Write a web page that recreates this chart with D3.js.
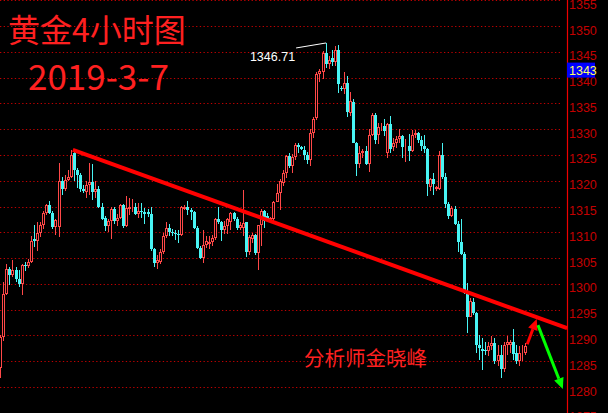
<!DOCTYPE html>
<html><head><meta charset="utf-8">
<script src="https://cdn.jsdelivr.net/npm/d3@7"></script>
<style>html,body{margin:0;padding:0;background:#000;overflow:hidden}</style>
</head><body>
<svg id="c" width="608" height="413"></svg>
<script>
// ---- data ----
const opens = [1283.7,1289.6,1298.1,1302.9,1301.7,1302.6,1301.0,1299.9,1303.6,1303.4,1304.3,1308.7,1308.4,1309.8,1311.5,1313.7,1315.2,1313.8,1311.1,1311.1,
1319.9,1318.3,1320.1,1320.8,1325.3,1322.1,1321.2,1318.4,1317.9,1319.2,1319.7,1317.8,1318.3,1315.0,1312.8,1311.2,1312.2,1314.6,1312.2,1312.8,
1315.2,1311.3,1314.6,1314.7,1315.0,1313.5,1314.1,1314.0,1314.0,1313.6,1306.7,1304.0,1304.3,1306.1,1309.3,1310.9,1310.1,1309.9,1309.6,1309.4,
1314.6,1315.0,1314.3,1313.9,1310.9,1306.9,1305.1,1307.5,1307.7,1308.1,1308.8,1312.5,1311.9,1310.4,1311.3,1312.0,1313.7,1312.6,1310.9,1310.8,
1311.9,1306.2,1308.7,1309.4,1306.0,1311.4,1314.2,1313.1,1312.3,1312.5,1315.9,1317.6,1319.6,1321.5,1324.8,1322.8,1324.6,1327.0,1326.5,1325.9,
1324.9,1324.1,1329.2,1332.1,1340.6,1341.0,1344.8,1342.6,1343.8,1343.0,1345.4,1338.0,1337.8,1338.9,1333.2,1335.3,1327.4,1323.3,1325.3,1325.8,
1323.3,1328.9,1332.8,1328.9,1330.2,1330.6,1325.4,1331.0,1326.5,1327.3,1328.0,1328.6,1326.5,1326.8,1325.7,1328.9,1329.2,1327.8,1326.8,1326.2,
1318.7,1320.3,1318.4,1318.3,1324.9,1320.8,1315.4,1313.2,1314.6,1311.6,1308.1,1305.8,1298.3,1293.6,1296.5,1294.3,1288.2,1287.3,1287.2,1286.9,
1287.9,1288.5,1285.0,1286.3,1283.4,1288.2,1288.2,1288.7,1286.6,1285.0,1286.6,1286.5];
const highs = [1290.0,1300.3,1303.8,1303.3,1304.7,1303.2,1302.7,1303.8,1304.3,1304.8,1309.3,1311.5,1311.9,1311.9,1314.1,1315.4,1316.0,1314.1,1312.6,1323.4,
1320.8,1321.2,1322.0,1326.0,1325.6,1322.4,1321.5,1319.2,1319.9,1323.5,1323.3,1319.9,1318.9,1315.7,1313.1,1312.5,1315.0,1315.0,1313.5,1315.4,
1315.4,1317.0,1316.6,1316.4,1315.7,1315.7,1315.7,1314.7,1314.6,1315.0,1306.9,1305.6,1306.7,1309.9,1311.9,1311.6,1310.7,1310.5,1310.5,1315.1,
1315.3,1316.0,1314.8,1314.1,1311.2,1307.4,1310.4,1309.3,1309.3,1309.4,1312.7,1314.9,1312.1,1312.1,1312.7,1314.0,1314.0,1312.9,1312.0,1318.2,
1312.0,1309.5,1309.8,1309.6,1311.5,1314.5,1314.4,1313.7,1313.0,1316.1,1319.3,1320.3,1322.0,1325.0,1325.4,1325.1,1327.4,1327.4,1326.8,1326.8,
1325.5,1330.0,1332.4,1341.0,1341.7,1345.1,1346.71,1344.2,1345.4,1346.2,1346.4,1338.4,1341.0,1340.3,1337.2,1335.8,1327.6,1326.7,1326.2,1326.8,
1330.0,1333.1,1333.1,1331.2,1331.2,1331.9,1331.1,1332.6,1328.3,1328.6,1330.0,1328.9,1328.0,1329.1,1329.9,1329.9,1329.4,1328.7,1328.9,1326.3,
1320.6,1321.5,1319.0,1325.7,1327.4,1321.5,1315.8,1315.1,1315.1,1312.2,1312.6,1306.2,1300.1,1297.2,1297.2,1294.6,1290.1,1289.5,1288.8,1288.8,
1289.8,1289.5,1288.2,1288.2,1288.8,1289.8,1289.2,1291.3,1288.2,1287.9,1288.2,1288.5];
const lows = [1281.7,1289.0,1297.8,1299.7,1301.3,1300.3,1299.4,1297.9,1302.4,1303.1,1304.0,1307.1,1306.3,1309.0,1310.6,1313.3,1313.5,1310.7,1309.5,1309.0,
1317.3,1318.0,1319.9,1320.5,1319.9,1318.6,1317.8,1317.6,1316.7,1317.3,1316.3,1316.7,1314.7,1312.4,1310.3,1310.1,1308.7,1311.7,1311.3,1312.5,
1310.9,1311.1,1313.3,1313.9,1313.3,1312.8,1312.8,1311.7,1312.9,1306.4,1303.2,1302.8,1303.9,1305.8,1308.8,1309.3,1309.3,1308.5,1308.0,1309.2,
1314.3,1313.3,1312.4,1310.6,1306.7,1304.8,1304.1,1306.9,1306.7,1307.3,1308.6,1311.6,1308.3,1309.6,1309.6,1310.4,1312.1,1310.4,1310.4,1309.2,
1305.2,1305.5,1307.9,1305.6,1302.6,1307.4,1310.8,1311.9,1311.9,1312.2,1315.8,1314.4,1319.0,1320.6,1322.5,1321.4,1324.1,1325.4,1326.0,1324.1,
1323.3,1322.8,1328.3,1331.8,1339.2,1339.7,1341.9,1341.7,1342.2,1342.2,1337.1,1337.4,1336.8,1332.3,1332.6,1327.3,1321.0,1322.5,1324.4,1323.0,
1321.7,1328.6,1327.2,1327.2,1329.6,1328.6,1324.5,1325.3,1325.7,1326.3,1327.4,1324.4,1323.6,1323.8,1325.5,1328.3,1327.4,1325.7,1325.4,1317.1,
1318.0,1317.2,1318.1,1318.2,1320.3,1314.8,1312.6,1312.9,1311.4,1306.2,1305.5,1298.1,1290.4,1293.5,1293.9,1286.6,1285.3,1283.2,1286.3,1286.0,
1287.2,1284.4,1284.0,1281.8,1283.0,1286.3,1286.6,1285.3,1284.5,1284.0,1285.0,1286.3];
const closes = [1289.6,1298.1,1302.9,1301.7,1302.6,1301.0,1299.9,1303.6,1303.4,1304.3,1308.3,1308.4,1309.8,1311.5,1313.7,1315.2,1313.8,1311.1,1312.4,1319.9,
1318.3,1320.1,1320.8,1325.0,1322.1,1321.2,1318.3,1318.1,1319.2,1319.7,1317.8,1318.3,1315.0,1312.6,1311.2,1312.2,1314.6,1312.2,1312.8,1315.2,
1311.3,1314.7,1315.0,1315.0,1313.5,1314.1,1313.9,1313.5,1313.6,1306.7,1304.0,1304.6,1306.1,1309.3,1310.9,1310.1,1309.9,1309.6,1309.4,1314.9,
1315.0,1314.3,1313.9,1310.9,1306.9,1305.1,1307.5,1308.3,1308.1,1308.8,1312.5,1311.9,1310.4,1311.3,1312.5,1313.7,1312.6,1310.9,1311.5,1311.8,
1306.2,1309.0,1309.4,1306.0,1311.4,1314.2,1312.2,1312.5,1312.7,1315.8,1317.6,1319.9,1321.5,1324.7,1322.8,1324.6,1327.0,1326.6,1326.2,1324.9,
1324.1,1329.2,1332.0,1340.6,1341.3,1344.7,1342.6,1343.5,1343.0,1345.4,1338.7,1337.8,1338.9,1333.3,1335.4,1327.4,1323.3,1325.3,1325.7,1323.3,
1328.9,1332.8,1327.8,1330.4,1330.5,1329.6,1331.0,1326.2,1327.4,1328.0,1328.6,1326.5,1326.8,1325.7,1328.9,1329.2,1327.8,1326.8,1326.2,1319.3,
1320.3,1319.3,1318.8,1324.9,1320.8,1315.4,1313.2,1314.8,1311.6,1308.1,1305.8,1298.3,1293.6,1296.7,1294.3,1288.2,1287.6,1286.9,1286.9,1287.9,
1288.5,1285.0,1286.3,1283.4,1288.2,1288.8,1288.8,1286.4,1285.0,1286.6,1286.8,1287.9];
const tickValues = [1275,1280,1285,1290,1295,1300,1305,1310,1315,1320,1325,1330,1335,1340,1345,1350,1355];
const titleText = "黄金4小时图";
const dateText = "2019-3-7";
const authorText = "分析师金晓峰";
const peakIndex = 106, peakValue = 1346.71, peakLabel = "1346.71";
const lastPrice = 1343;
const trendLine = [[23.5, 1326.0], [184.5, 1291.4]];
const redArrow = [[171.5, 1288.3], [174.6, 1293.2]];
const greenArrow = [[175.0, 1292.0], [183.1, 1279.6]];

// ---- drawing ----
const W = 608, H = 413, axisX = 567;
const svg = d3.select("#c");
svg.append("rect").attr("width", W).attr("height", H).attr("fill", "#000");

const n = opens.length;
const x = d3.scaleLinear().domain([0, n - 1]).range([0.7, 0.7 + 3.07 * (n - 1)]);
const y = d3.scaleLinear().domain([1280, 1350]).range([387, 26]);

// gridlines
svg.append("g").selectAll("line").data(tickValues).join("line")
  .attr("x1", 0).attr("x2", 562)
  .attr("y1", d => Math.round(y(d)) + 0.5).attr("y2", d => Math.round(y(d)) + 0.5)
  .attr("stroke", "#c00000").attr("stroke-width", 1)
  .attr("stroke-dasharray", "1.3,2.4");

// axis
const axis = d3.axisRight(y).tickValues(tickValues).tickSize(0).tickPadding(2).tickFormat(d3.format("d"));
const ag = svg.append("g").attr("transform", `translate(${axisX},0)`).call(axis);
ag.select(".domain").remove();
ag.selectAll("text").attr("dy", null).attr("y", 8)
  .attr("fill", "#c40000").style("font-family", "'Liberation Sans', Arial, sans-serif").style("font-size", "12.5px");
svg.append("line").attr("x1", axisX + 0.5).attr("x2", axisX + 0.5).attr("y1", 0).attr("y2", H)
  .attr("stroke", "#ee0000").attr("stroke-width", 1.2);

// candles
const up = "#ff4848", dn = "#48f4f4";
const data = opens.map((o, i) => ({i, o, h: highs[i], l: lows[i], c: closes[i]}));
const cg = svg.append("g").attr("shape-rendering", "crispEdges");
data.forEach(d => {
  const px = Math.floor(x(d.i));
  const isUp = d.c >= d.o;
  const col = isUp ? up : dn;
  const yh = Math.round(y(d.h)), yl = Math.round(y(d.l));
  const yt = Math.round(y(Math.max(d.o, d.c))), yb = Math.round(y(Math.min(d.o, d.c)));
  cg.append("line").attr("x1", px + 0.5).attr("x2", px + 0.5).attr("y1", yh).attr("y2", yl)
    .attr("stroke", col).attr("stroke-width", 1);
  if (isUp) {
    cg.append("rect").attr("x", px - 0.5).attr("y", yt + 0.5).attr("width", 2).attr("height", Math.max(yb - yt - 1, 0))
      .attr("fill", "#000").attr("stroke", col).attr("stroke-width", 1);
  } else {
    cg.append("rect").attr("x", px - 1).attr("y", yt).attr("width", 3).attr("height", Math.max(yb - yt, 1))
      .attr("fill", col);
  }
});

// trend line
svg.append("line")
  .attr("x1", x(trendLine[0][0])).attr("y1", y(trendLine[0][1]))
  .attr("x2", x(trendLine[1][0])).attr("y2", y(trendLine[1][1]))
  .attr("stroke", "#ff0000").attr("stroke-width", 4);

// arrows
function arrow(pts, color, w) {
  const x1 = x(pts[0][0]), y1 = y(pts[0][1]), x2 = x(pts[1][0]), y2 = y(pts[1][1]);
  const a = Math.atan2(y2 - y1, x2 - x1), hl = 11, hw = 5;
  const bx = x2 - hl * Math.cos(a), by = y2 - hl * Math.sin(a);
  svg.append("line").attr("x1", x1).attr("y1", y1).attr("x2", bx).attr("y2", by)
    .attr("stroke", color).attr("stroke-width", w);
  svg.append("polygon").attr("points", [
    [x2, y2], [bx + hw * Math.sin(a), by - hw * Math.cos(a)], [bx - hw * Math.sin(a), by + hw * Math.cos(a)]
  ].map(p => p.join(",")).join(" ")).attr("fill", color);
}
arrow(redArrow, "#ff0000", 3);
arrow(greenArrow, "#00ff00", 3);

// peak annotation
const pxp = x(peakIndex), pyp = y(peakValue);
svg.append("line").attr("x1", pxp - 30).attr("y1", pyp + 5).attr("x2", pxp).attr("y2", pyp)
  .attr("stroke", "#fff").attr("stroke-width", 1);
svg.append("text").attr("x", pxp - 31).attr("y", pyp + 18).attr("text-anchor", "end")
  .attr("fill", "#fff").style("font-family", "'Liberation Sans', Arial, sans-serif").style("font-size", "12.5px")
  .text(peakLabel);

// last price box
const ly = y(lastPrice);
svg.append("rect").attr("x", axisX).attr("y", ly + 0.5).attr("width", 28).attr("height", 15).attr("fill", "#0000ff");
svg.append("text").attr("x", axisX + 2).attr("y", ly + 13).attr("fill", "#ffff66")
  .style("font-family", "'Liberation Sans', Arial, sans-serif").style("font-size", "12.5px").text(lastPrice);

// titles
const cjk = "'Noto Sans CJK SC', sans-serif";
svg.append("text").attr("x", 8).attr("y", 42).attr("fill", "#ff2020")
  .style("font-family", cjk).style("font-size", "32px").text(titleText);
svg.append("text").attr("x", 28).attr("y", 90).attr("fill", "#ff2020")
  .style("font-family", cjk).style("font-size", "35px").text(dateText);
svg.append("text").attr("x", 304).attr("y", 366).attr("fill", "#ff2020")
  .style("font-family", cjk).style("font-size", "20.5px").text(authorText);
</script>
</body></html>
